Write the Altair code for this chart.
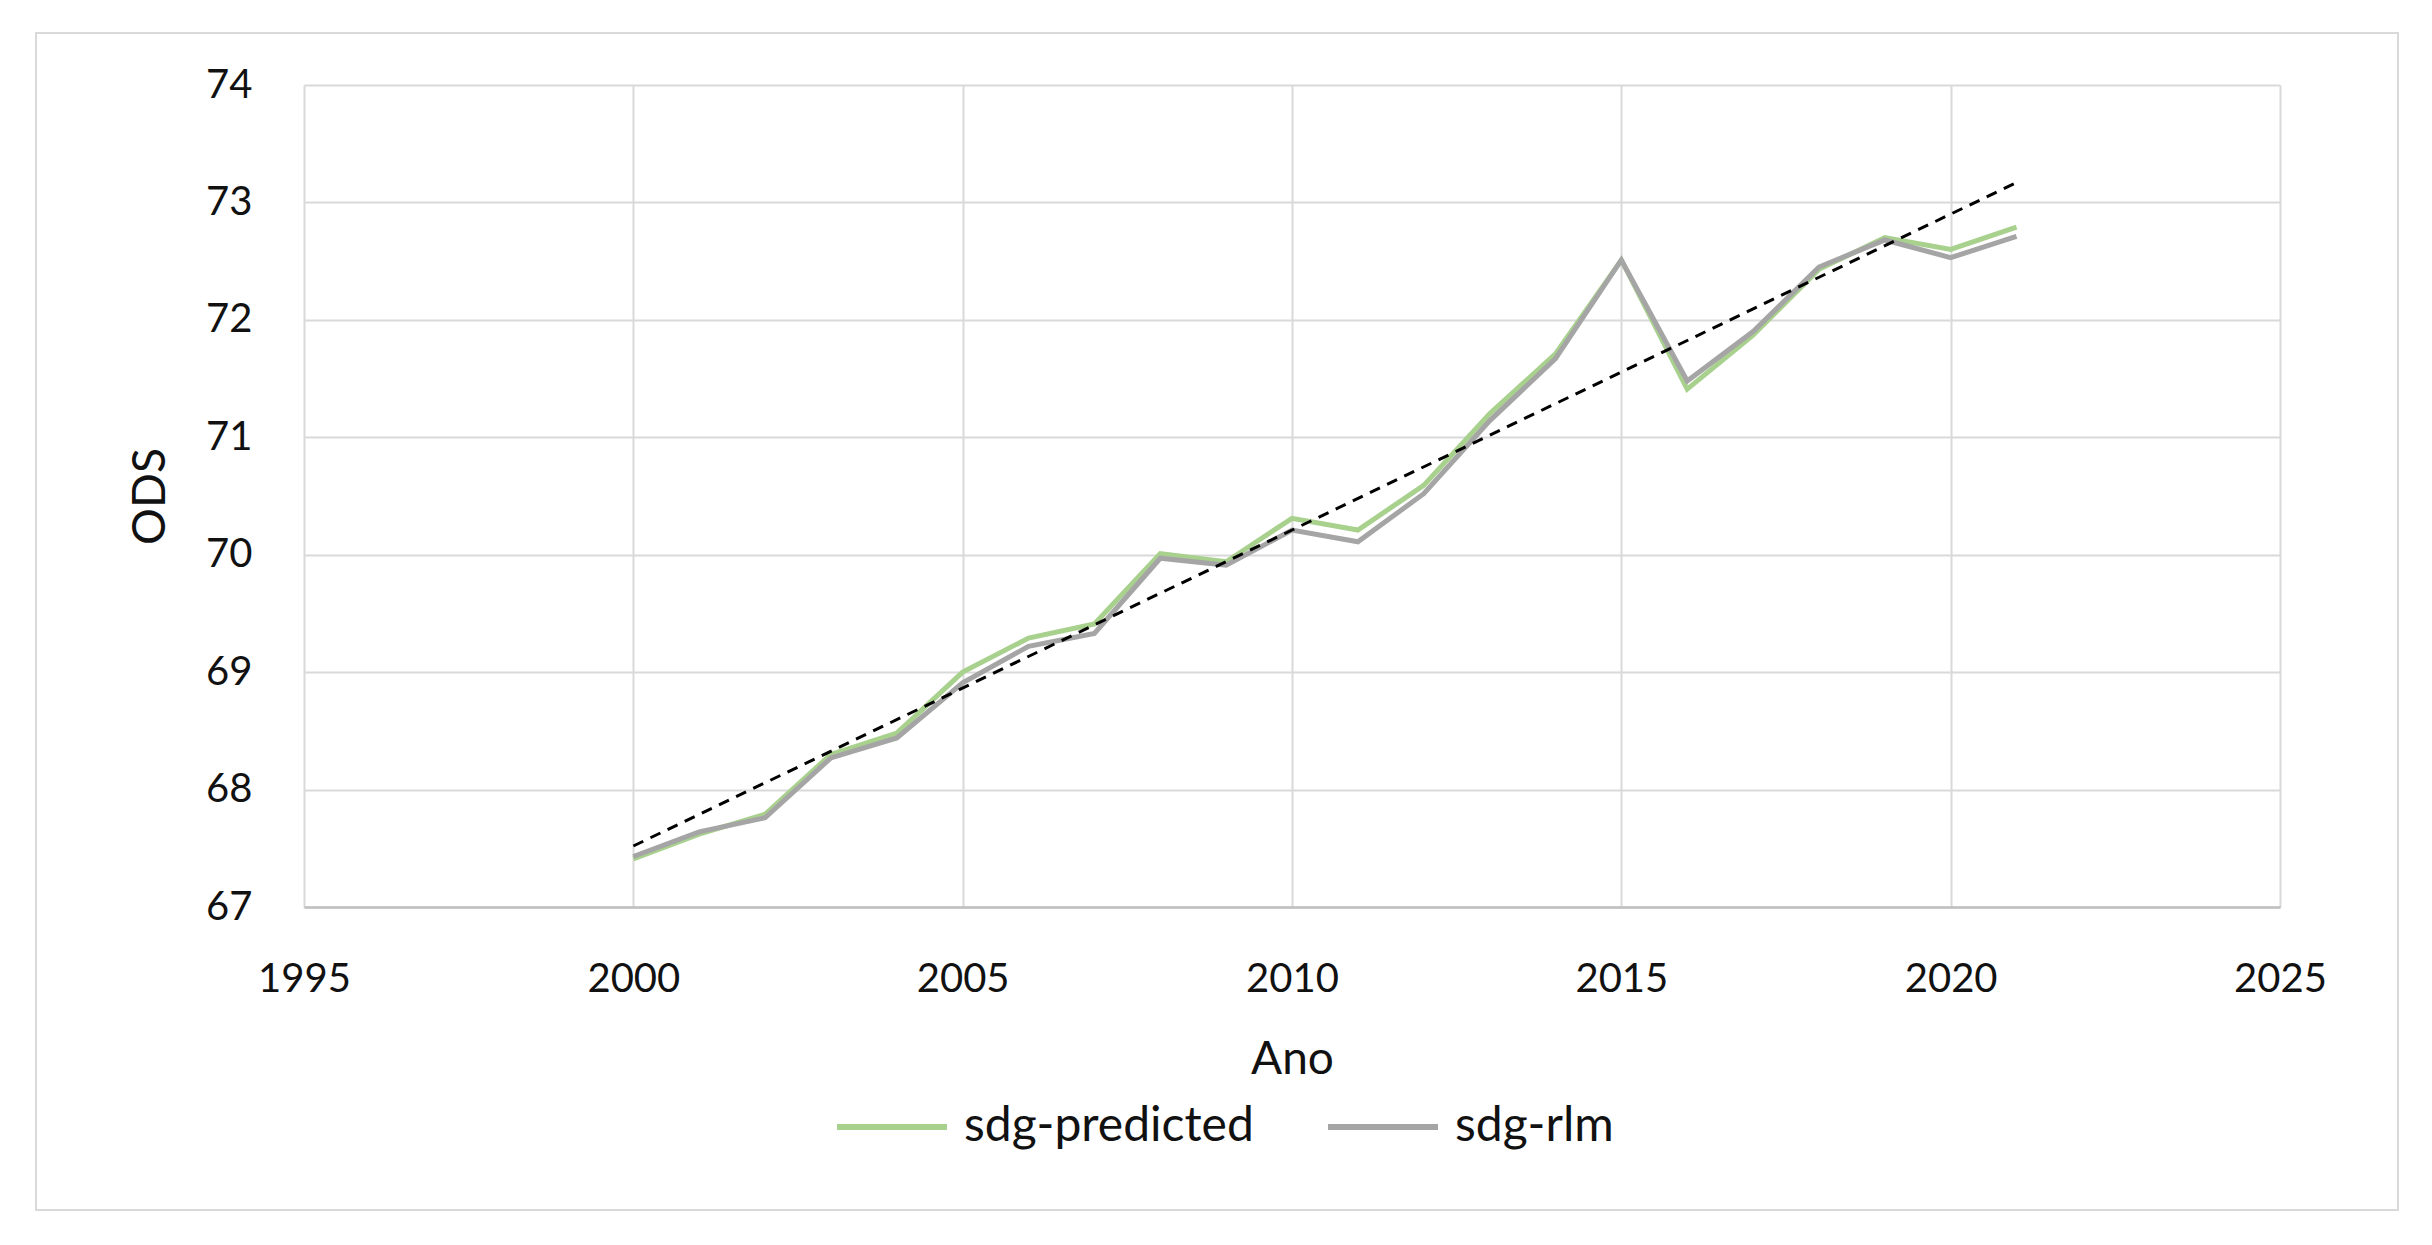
import altair as alt
import pandas as pd

years = list(range(2000, 2022))
sdg_predicted = [67.41, 67.62, 67.79, 68.30, 68.48, 69.00, 69.29, 69.41, 70.01, 69.94, 70.31,
                 70.21, 70.59, 71.20, 71.71, 72.51, 71.41, 71.87, 72.43, 72.70, 72.60, 72.79]
sdg_rlm = [67.43, 67.64, 67.76, 68.27, 68.44, 68.91, 69.22, 69.33, 69.97, 69.91, 70.21,
           70.11, 70.52, 71.14, 71.67, 72.51, 71.48, 71.90, 72.45, 72.68, 72.53, 72.71]
x_ticks = [1995, 2000, 2005, 2010, 2015, 2020, 2025]
y_ticks = [67, 68, 69, 70, 71, 72, 73, 74]
series_names = ["sdg-predicted", "sdg-rlm"]
series_colors = ["#a9d18e", "#a5a5a5"]

rows = []
for yr, a, b in zip(years, sdg_predicted, sdg_rlm):
    rows.append({"year": yr, "series": series_names[0], "value": a})
    rows.append({"year": yr, "series": series_names[1], "value": b})
df = pd.DataFrame(rows)

FONT = "Lato"
W, H = 1976, 822

x_enc = alt.X("year:Q", scale=alt.Scale(domain=[1995, 2025], nice=False),
              axis=alt.Axis(values=x_ticks, format="d", title="Ano", ticks=False,
                            labelFlush=False, labelOverlap=False, labelPadding=52,
                            grid=True, gridColor="#d9d9d9", gridWidth=2,
                            domainColor="#bfbfbf", domainWidth=2.5,
                            titleY=152, titleBaseline="middle"))
y_enc = alt.Y("value:Q", scale=alt.Scale(domain=[67, 74], nice=False, zero=False),
              axis=alt.Axis(values=y_ticks, format="d", title="ODS", ticks=False, domain=False,
                            labelFlush=False, labelOverlap=False, labelPadding=52,
                            grid=True, gridColor="#d9d9d9", gridWidth=2,
                            titleX=-154, titleY=H / 2, titleBaseline="middle"))

base = alt.Chart(df)

lines = base.mark_line(strokeWidth=5).encode(
    x=x_enc, y=y_enc,
    color=alt.Color("series:N",
                    scale=alt.Scale(domain=series_names, range=series_colors),
                    legend=alt.Legend(orient="none", legendX=530, legendY=984,
                                      direction="horizontal", title=None,
                                      symbolType="stroke", symbolSize=110 * 110,
                                      symbolStrokeWidth=6, labelFontSize=48,
                                      labelFont=FONT, labelOffset=14, columnPadding=62,
                                      padding=0, labelLimit=1000, labelColor="#111111")),
)

trend = base.transform_filter(
    alt.datum.series == series_names[0]
).transform_regression("year", "value").mark_line(
    color="#000000", strokeDash=[11, 8], strokeWidth=3
).encode(x="year:Q", y="value:Q")

border = alt.Chart(pd.DataFrame({"k": [0]})).mark_rect(
    fillOpacity=0, stroke="#d9d9d9", strokeWidth=2
).encode(x=alt.value(36 - 304), x2=alt.value(2398 - 304),
         y=alt.value(33 - 85), y2=alt.value(1210 - 85))

chart = alt.layer(border, lines, trend).properties(
    width=W, height=H,
    autosize=alt.AutoSizeParams(type="none"),
    padding={"left": 296, "top": 77, "right": 120, "bottom": 330},
).configure_axis(
    labelFont=FONT, titleFont=FONT, labelFontSize=40, titleFontSize=46,
    labelColor="#111111", titleColor="#111111", titleFontWeight="normal",
).configure_view(stroke=None)

chart.save("out.html", embed_options={"renderer": "svg", "actions": False})
